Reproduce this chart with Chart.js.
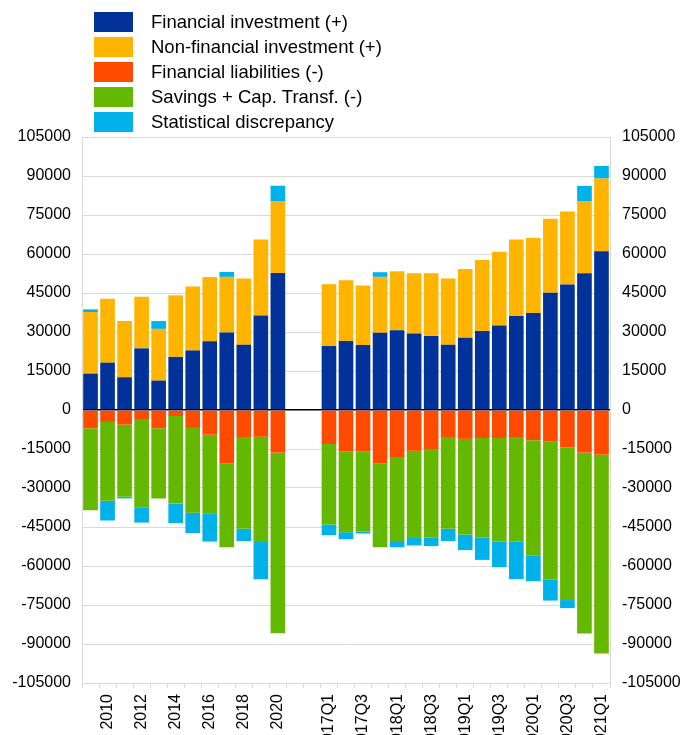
<!DOCTYPE html>
<html>
<head>
<meta charset="utf-8">
<script src="https://cdn.jsdelivr.net/npm/chart.js@4.4.1/dist/chart.umd.min.js"></script>
<style>
    body { margin: 0; background: #fff; font-family: "Liberation Sans", Arial, sans-serif; }
    #wrap { position: relative; width: 682px; height: 735px; overflow: hidden; }
    #flowChart { position: absolute; left: 0; top: 0; }
    #chartLegend { position: absolute; left: 94px; top: 12px; }
    .legend-item { display: flex; align-items: center; height: 20px; margin-bottom: 5px; }
    .legend-dot { width: 39px; height: 20px; margin-right: 18px; }
    .legend-text { font-size: 18.5px; color: #000; white-space: nowrap; }
</style>
</head>
<body>
<div id="wrap">
    <canvas id="flowChart" width="682" height="735"></canvas>
    <div id="chartLegend"></div>
</div>
<script>
// categories: annual 2009-2020, two empty slots, then quarters 2017Q1-2021Q1
const years = ['2009', '2010', '2011', '2012', '2013', '2014', '2015', '2016', '2017', '2018', '2019', '2020'];
const quarters = ['2017Q1', '2017Q2', '2017Q3', '2017Q4', '2018Q1', '2018Q2', '2018Q3', '2018Q4',
    '2019Q1', '2019Q2', '2019Q3', '2019Q4', '2020Q1', '2020Q2', '2020Q3', '2020Q4', '2021Q1'];
const gap = ['', ''];

// annual values
const finInvYear = [14000, 18200, 12600, 23700, 11300, 20400, 22900, 26400, 29800, 25100, 36300, 52700];
const nonFinInvYear = [23700, 24600, 21650, 19850, 19900, 23700, 24600, 24800, 21400, 25450, 29300, 27650];
const finLiabYear = [-7000, -4600, -5600, -3800, -7000, -2300, -6900, -9500, -20500, -10400, -10300, -16400];
const savingsYear = [-31600, -30300, -27800, -33600, -27000, -33700, -32600, -30200, -32300, -35300, -40100, -69500];
const discrepancyYear = [1000, -7600, -600, -5900, 3000, -7500, -7800, -10900, 1900, -4700, -14700, 5900];

// quarterly values
const finInvQtr = [24600, 26500, 25000, 29700, 30700, 29400, 28500, 25100, 27800, 30400, 32500, 36200, 37300, 45100, 48300, 52600, 61100];
const nonFinInvQtr = [23800, 23400, 22900, 21500, 22650, 23200, 24100, 25450, 26450, 27300, 28350, 29400, 28900, 28500, 28000, 27750, 27900];
const finLiabQtr = [-13100, -16000, -15900, -20500, -18100, -15700, -15300, -10400, -11100, -10800, -10800, -10400, -11600, -12200, -14300, -16400, -17200];
const savingsQtr = [-30950, -31000, -30950, -32300, -32300, -33200, -33850, -35300, -36800, -38350, -39750, -40150, -44450, -53100, -58800, -69550, -76500];
const discrepancyQtr = [-4100, -2700, -650, 1800, -2400, -3200, -3200, -4700, -6000, -8500, -9900, -14500, -9800, -8000, -3100, 5850, 4850];

const yTicksMin = -105000;
const yTicksMax = 105000;
const yTickStep = 15000;

const seriesNames = ['Financial investment (+)', 'Non-financial investment (+)', 'Financial liabilities (-)',
    'Savings + Cap. Transf. (-)', 'Statistical discrepancy'];
const seriesColors = ['#003299', '#ffb400', '#ff4b00', '#65b800', '#00b1ea'];

const labels = years.concat(gap, quarters);
const join = (a, b) => a.concat([null, null], b);
const seriesData = [
    join(finInvYear, finInvQtr),
    join(nonFinInvYear, nonFinInvQtr),
    join(finLiabYear, finLiabQtr),
    join(savingsYear, savingsQtr),
    join(discrepancyYear, discrepancyQtr)
];

Chart.defaults.font.family = '"Liberation Sans", Arial, sans-serif';
Chart.defaults.font.size = 16;
Chart.defaults.color = '#000';

function createCustomLegend(names, colors) {
    const legendContainer = document.getElementById('chartLegend');
    legendContainer.innerHTML = '';
    names.forEach((name, index) => {
        const legendItem = document.createElement('div');
        legendItem.className = 'legend-item';
        const dot = document.createElement('div');
        dot.className = 'legend-dot';
        dot.style.backgroundColor = colors[index];
        const text = document.createElement('span');
        text.className = 'legend-text';
        text.textContent = name;
        legendItem.appendChild(dot);
        legendItem.appendChild(text);
        legendContainer.appendChild(legendItem);
    });
}

// only every other label is shown
function showLabel(label) {
    if (!label) return false;
    if (label.includes('Q')) return label.endsWith('Q1') || label.endsWith('Q3');
    return parseInt(label, 10) % 2 === 0;
}

const plainNumber = value => String(value);

const ctx = document.getElementById('flowChart').getContext('2d');
const flowChart = new Chart(ctx, {
    type: 'bar',
    data: {
        labels: labels,
        datasets: seriesNames.map((name, i) => ({
            label: name,
            data: seriesData[i],
            backgroundColor: seriesColors[i],
            borderWidth: 0,
            stack: 'flows',
            categoryPercentage: 1.0,
            barPercentage: 0.86
        }))
    },
    options: {
        responsive: false,
        animation: false,
        layout: { padding: { top: 137, left: 0, right: 0, bottom: 0 } },
        plugins: {
            legend: { display: false },
            tooltip: { enabled: false }
        },
        scales: {
            x: {
                stacked: true,
                offset: true,
                grid: {
                    drawOnChartArea: false,
                    drawTicks: true,
                    tickLength: 5,
                    color: '#d9d9d9'
                },
                border: { color: '#d9d9d9' },
                ticks: {
                    autoSkip: false,
                    minRotation: 90,
                    maxRotation: 90,
                    padding: 6,
                    font: { size: 16 },
                    callback: function(value) {
                        const label = this.getLabelForValue(value);
                        return showLabel(label) ? label : '';
                    }
                },
                afterFit: function(scale) { scale.height = 52; }
            },
            y: {
                stacked: true,
                position: 'left',
                min: yTicksMin,
                max: yTicksMax,
                grid: {
                    drawTicks: false,
                    color: c => c.tick && c.tick.value === 0 ? '#000' : '#d9d9d9',
                    lineWidth: c => c.tick && c.tick.value === 0 ? 1.5 : 1
                },
                border: { color: '#d9d9d9' },
                ticks: { stepSize: yTickStep, padding: 11, font: { size: 16 }, callback: plainNumber },
                afterFit: function(scale) { scale.width = 82; }
            },
            y2: {
                position: 'right',
                min: yTicksMin,
                max: yTicksMax,
                grid: { drawOnChartArea: false, drawTicks: false },
                border: { color: '#d9d9d9' },
                ticks: { stepSize: yTickStep, padding: 12, font: { size: 16 }, callback: plainNumber },
                afterFit: function(scale) { scale.width = 72; }
            }
        }
    }
});

createCustomLegend(seriesNames, seriesColors);
</script>
</body>
</html>
